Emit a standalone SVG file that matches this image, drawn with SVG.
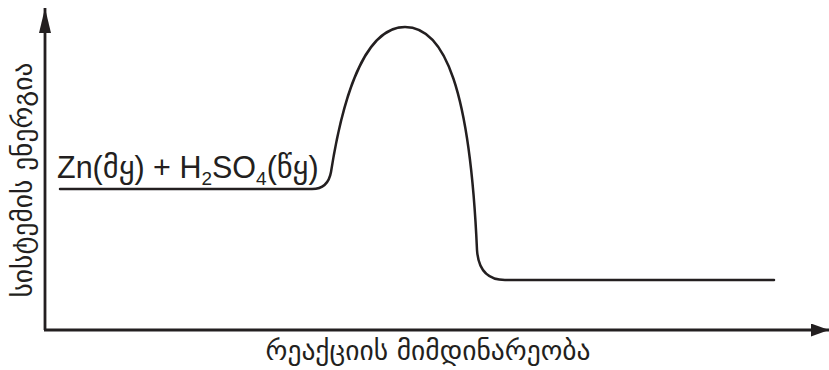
<svg xmlns="http://www.w3.org/2000/svg" width="829" height="370" viewBox="0 0 829 370">
<style>
.ax{stroke:#231f20;stroke-width:2.8;fill:none}
.cv{stroke:#231f20;stroke-width:2.5;fill:none;stroke-linecap:round}
.geo{font-family:"DejaVu Sans",sans-serif;font-size:27.5px;fill:#231f20}
.eq{font-family:"Liberation Sans","DejaVu Sans",sans-serif;font-size:30.5px;fill:#231f20}
</style>
<defs>
<marker id="ahy" viewBox="0 0 25 12" refX="25" refY="6" markerWidth="25" markerHeight="12" orient="auto" markerUnits="userSpaceOnUse">
<path d="M0,0 L25,6 L0,12 Z" fill="#231f20"/>
</marker>
<marker id="ahx" viewBox="0 0 18 13" refX="18" refY="6.5" markerWidth="18" markerHeight="13" orient="auto" markerUnits="userSpaceOnUse">
<path d="M0,0 L18,6.5 L0,13 Z" fill="#231f20"/>
</marker>
</defs>
<g id="connectors">
<path class="ax" d="M45,330 V8" marker-end="url(#ahy)"/>
<path class="ax" d="M44,330 H829" marker-end="url(#ahx)"/>
<path class="cv" d="M60,189 H312 Q328,189 331,172 C340,115 360,27 405,27 C445,27 470,90 477,250 Q479,280 505,280 H774"/>
</g>
<g id="y-label">
<text class="geo" transform="translate(32,180) rotate(-90)" text-anchor="middle">სისტემის ენერგია</text>
</g>
<g id="x-label">
<text class="geo" x="428" y="360" text-anchor="middle">რეაქციის მიმდინარეობა</text>
</g>
<g id="reactants">
<text class="eq" x="57" y="178">Zn(მყ) + H<tspan font-size="19" dy="7">2</tspan><tspan dy="-7">SO</tspan><tspan font-size="19" dy="7">4</tspan><tspan dy="-7">(წყ)</tspan></text>
</g>
</svg>
